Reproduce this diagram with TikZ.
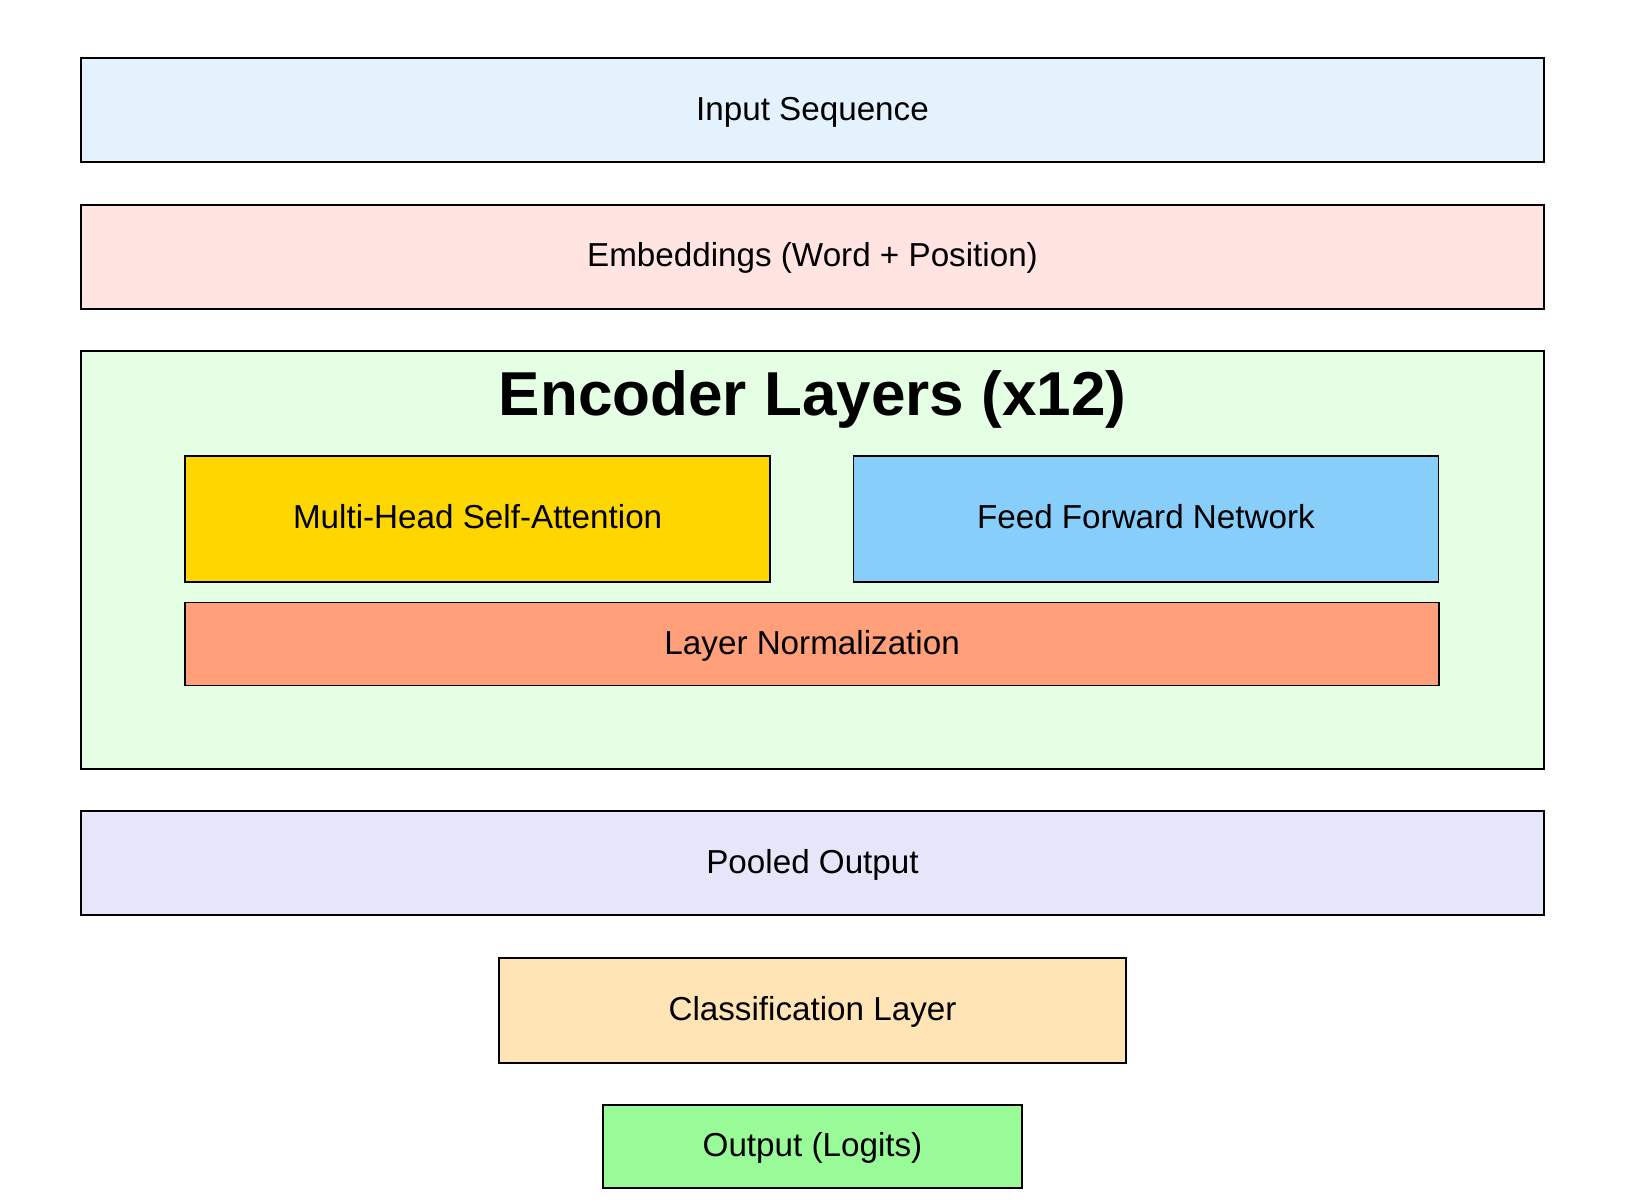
\documentclass[tikz,border=0pt]{standalone}
\usepackage{fontspec}
\setmainfont{Liberation Sans}
\usetikzlibrary{positioning}

\definecolor{inputblue}{HTML}{E3F2FD}
\definecolor{embrose}{HTML}{FFE4E1}
\definecolor{encgreen}{HTML}{E5FFE5}
\definecolor{attngold}{HTML}{FFD700}
\definecolor{ffnblue}{HTML}{87CEFA}
\definecolor{normsalmon}{HTML}{FFA07A}
\definecolor{poollav}{HTML}{E6E6FA}
\definecolor{clsmoc}{HTML}{FFE4B5}
\definecolor{outgreen}{HTML}{98FB98}

\begin{document}
\begin{tikzpicture}
        \tikzset{block/.style= {draw, rectangle, line width=1.1pt, inner sep=0pt,
                   text height=14pt, text depth=2.3pt,
                   font=\fontsize{18.9}{22}\selectfont, minimum width=29.25cm, minimum height=2.08cm},
        inblock/.style={block, line width=1pt, minimum width=11.7cm, minimum height=2.52cm},
        }
        \useasboundingbox[fill=white] (0,0) rectangle (32.64,-24.06);
        \node [block, fill=inputblue] (input) at (16.25,-2.207) {Input Sequence};
        \node [block, fill=embrose, below =0.805cm of input] (embed) {Embeddings (Word + Position)};
        \node [block, fill=encgreen, below =0.805cm of embed, minimum height=8.37cm] (encoder) {};
        \node [below =0.41cm of encoder.north, inner sep=0pt, font=\fontsize{35.3}{40}\selectfont\bfseries] (title) {Encoder Layers (x12)};
        \node [inblock, fill=attngold, below right =2.1cm and 2.08cm of encoder.north west] (attn) {Multi-Head Self-Attention};
        \node [inblock, fill=ffnblue, right =1.63cm of attn] (ffn) {Feed Forward Network};
        \node [inblock, fill=normsalmon, below right =0.38cm and 0cm of attn.south west, minimum width=25.08cm, minimum height=1.664cm] (norm) {Layer Normalization};
        \node [block, fill=poollav, below =0.805cm of encoder] (pooled) {Pooled Output};
        \node [block, fill=clsmoc, below =0.805cm of pooled, minimum width=12.55cm, minimum height=2.1cm] (classify) {Classification Layer};
        \node [block, fill=outgreen, below =0.805cm of classify, minimum width=8.37cm, minimum height=1.664cm] (logits) {Output (Logits)};
\end{tikzpicture}
\end{document}
